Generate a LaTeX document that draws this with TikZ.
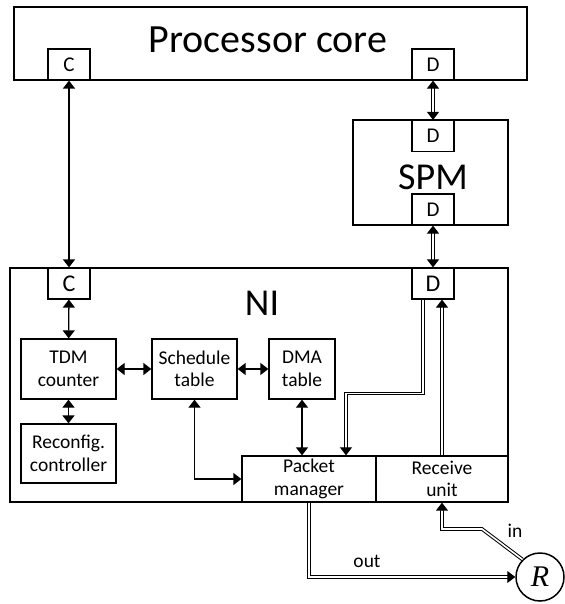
\documentclass[tikz,border=0pt]{standalone}
\usepackage{fontspec}
\setmainfont{Carlito}
\newfontfamily\serif{Liberation Serif}
\usetikzlibrary{arrows.meta,positioning}

\begin{document}
\begin{tikzpicture}[x=1pt,y=-1pt,>={Triangle[length=8pt,width=12pt]},
  box/.style={draw,line width=1.3pt,align=center,inner sep=0pt,font=\fontsize{19.5}{22.5}\selectfont},
  port/.style={draw,line width=1.2pt,minimum width=42pt,minimum height=31pt,inner sep=0pt},
  title/.style={font=\fontsize{38}{44}\selectfont,inner sep=0pt},
  link/.style={line width=1.3pt},
  bus/.style={double,line width=1pt,double distance=1.6pt}]
\useasboundingbox (0,0) rectangle (564,604);
% processor core and SPM
\node[draw,line width=2pt,minimum width=513pt,minimum height=73pt] (core) at (270.5,43.5) {};
\node[title,font=\fontsize{40}{46}\selectfont] (coretitle) at (268,40) {Processor core};
\node[port,font=\fontsize{21}{25}\selectfont] (coreC) at (69,64.5) {C};
\node[port,font=\fontsize{21}{25}\selectfont] (coreD) at (433,64.5) {D};
\node[draw,line width=1.8pt,minimum width=155pt,minimum height=105pt] (spm) at (430.5,172.5) {};
\node[title] (spmtitle) at (433,177) {SPM};
\node[port,font=\fontsize{21}{25}\selectfont] (spmDin) at (433,136) {D};
\node[port,font=\fontsize{21}{25}\selectfont] (spmDout) at (433,209.5) {D};
% network interface
\node[draw,line width=2pt,minimum width=498pt,minimum height=234pt] (ni) at (259,385) {};
\node[title] (nititle) at (262,303) {NI};
\node[port,font=\fontsize{24}{28}\selectfont] (niC) at (69,283.5) {C};
\node[port,font=\fontsize{24}{28}\selectfont] (niD) at (433,283.5) {D};
\node[box,minimum width=95pt,minimum height=60pt] (tdm) at (68.5,369) {TDM\\counter};
\node[box,minimum width=95pt,minimum height=59pt] (reconf) at (68.5,453.5) {Reconfig.\\controller};
\node[box,minimum width=85pt,minimum height=60pt] (sched) at (194.5,369) {Schedule\\table};
\node[box,minimum width=66pt,minimum height=60pt] (dma) at (302,369) {DMA\\table};
\node[box,minimum width=134pt,minimum height=46pt] (pm) at (309,479) {Packet\\manager};
\node[box,minimum width=132pt,minimum height=46pt] (ru) at (442,479) {Receive\\unit};
\node[circle,draw,line width=1.5pt,minimum size=48pt,inner sep=0pt,font=\fontsize{30}{34}\serif\itshape] (router) at (540,577) {R};
% control links
\draw[link,<->] (coreC) -- (niC);
\draw[link,<->] (niC) -- (tdm);
\draw[link,<->] (tdm) -- (reconf);
\draw[link,<->] (tdm) -- (sched);
\draw[link,<->] (sched) -- (dma);
\draw[link,<->] (dma) -- (dma |- pm.north);
\draw[link,<->] (sched) |- (pm);
% data paths
\draw[bus,<->] (coreD) -- (spmDin);
\draw[bus,<->] (spmDout) -- (niD);
\draw[bus,->] ([xshift=-10pt]niD.south) -- ++(0,94) -| ([xshift=37pt]pm.north);
\draw[bus,->] (ru) -- (ru |- niD.south);
\draw[bus,->] (pm) |- (router);
\coordinate (bend) at (482,529);
\draw[bus,->] (router.135) -- (bend) -| (ru);
\node[font=\fontsize{19.5}{22}\selectfont] (outlbl) at (367,561) {out};
\node[font=\fontsize{19.5}{22}\selectfont] (inlbl) at (515,531) {in};
\end{tikzpicture}
\end{document}
